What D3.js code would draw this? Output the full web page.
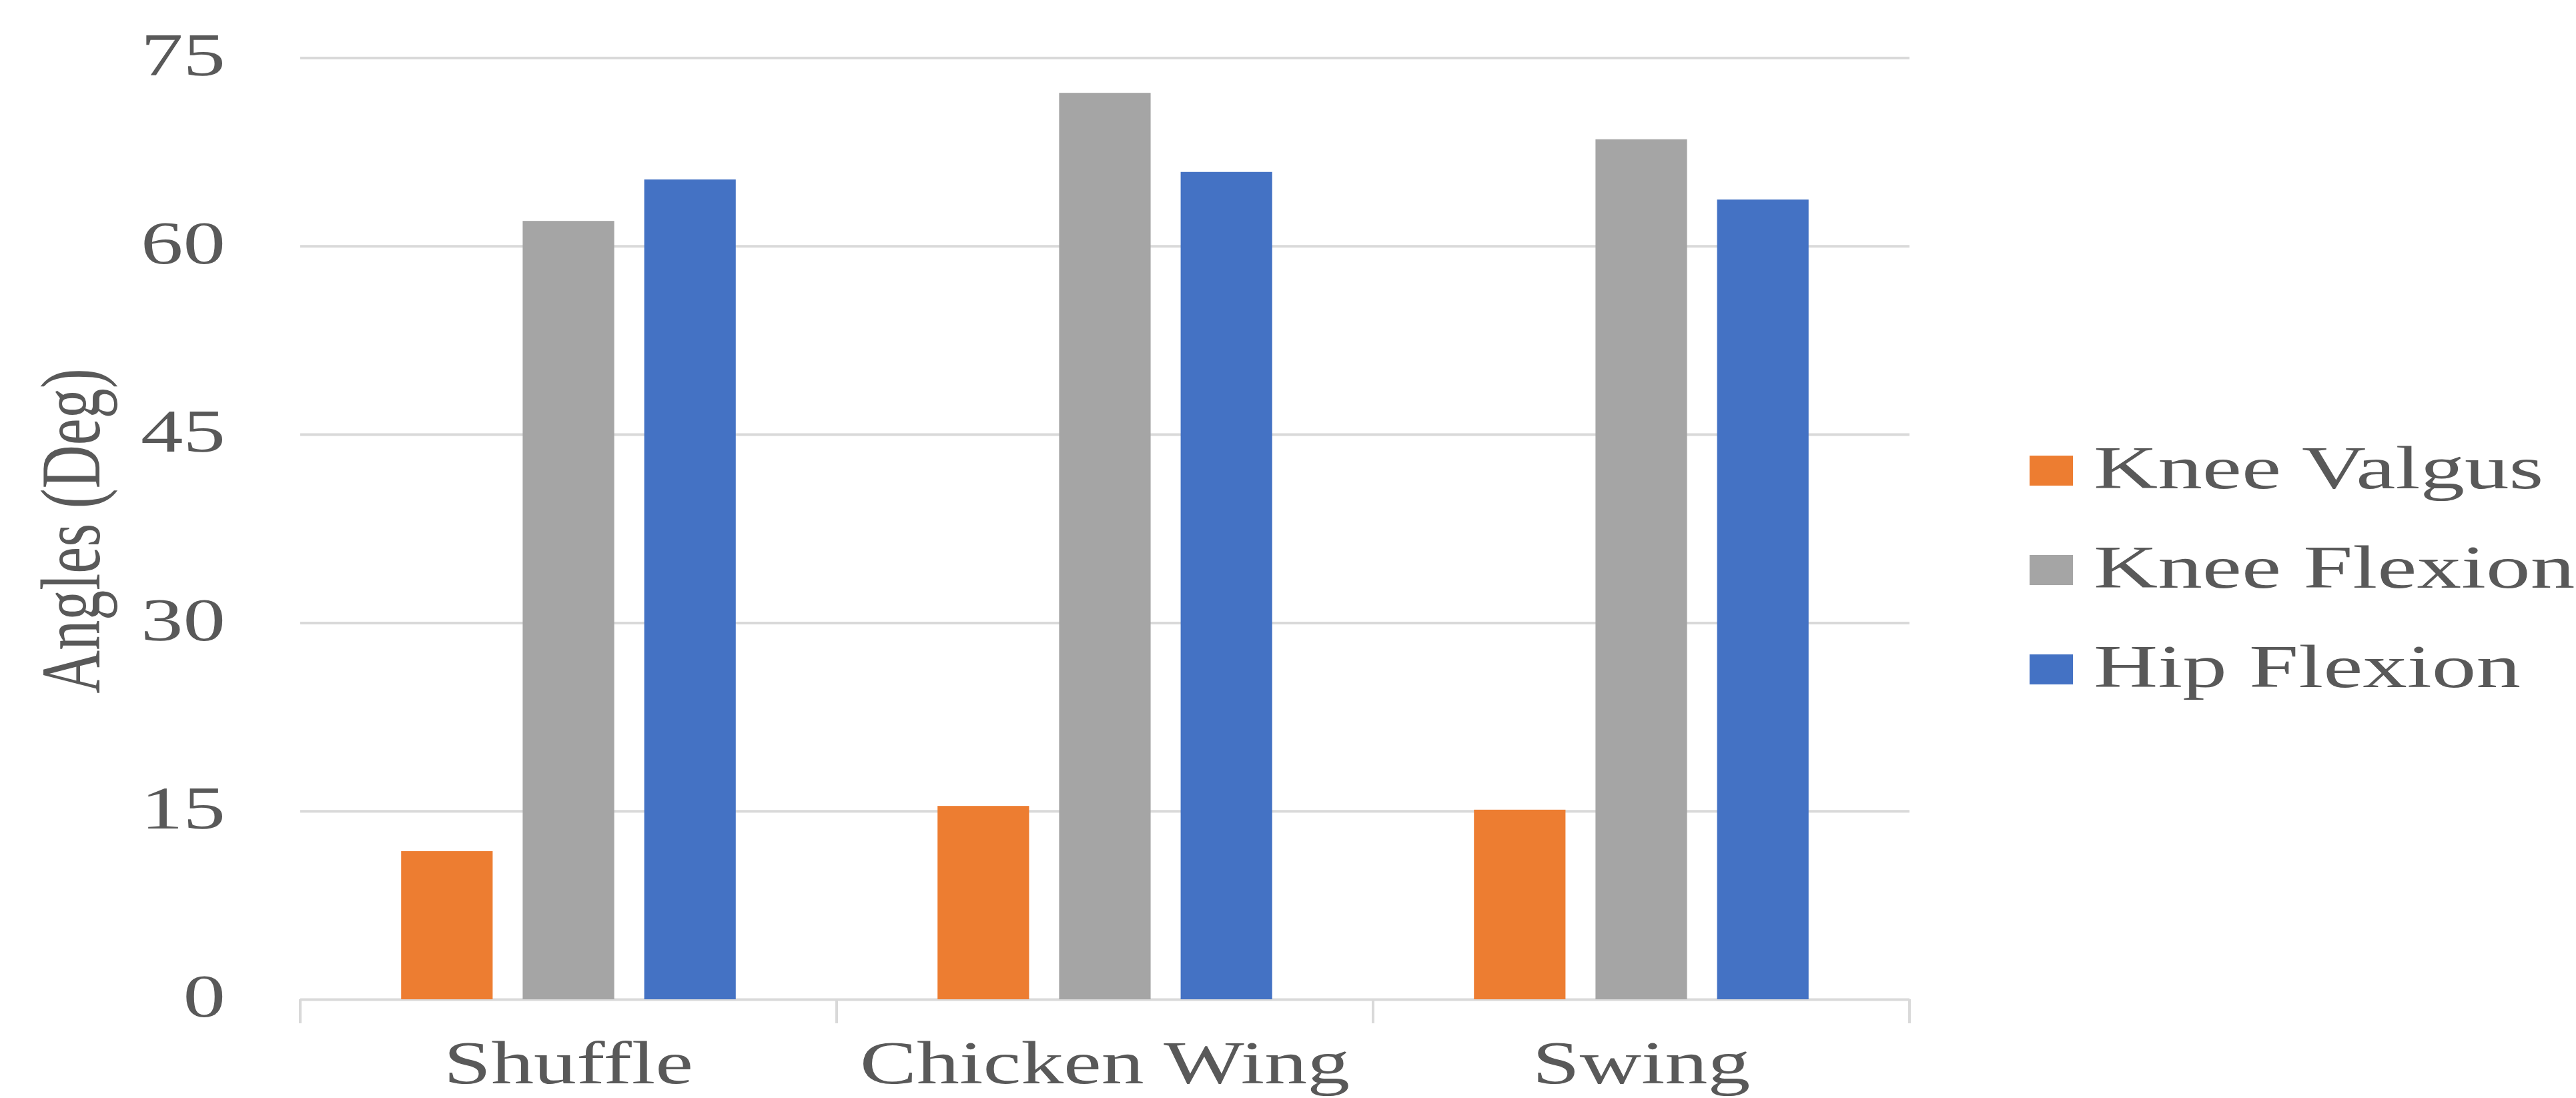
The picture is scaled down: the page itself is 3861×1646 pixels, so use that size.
<!DOCTYPE html>
<html><head><meta charset="utf-8">
<script src="https://cdn.jsdelivr.net/npm/d3@7"></script>
<style>html,body{margin:0;padding:0;background:#fff;} svg{display:block;}</style>
</head><body>
<svg id="chart" width="3861" height="1646"></svg>
<script>
const categories = ["Shuffle", "Chicken Wing", "Swing"];
const seriesNames = ["Knee Valgus", "Knee Flexion", "Hip Flexion"];
const kneeValgus = [11.8, 15.4, 15.1];
const kneeFlexion = [62.0, 72.2, 68.5];
const hipFlexion = [65.3, 65.9, 63.7];
const yTicks = [0, 15, 30, 45, 60, 75];
const colors = ["#ED7D31", "#A5A5A5", "#4472C4"];
const yTitle = "Angles (Deg)";

const seriesValues = [kneeValgus, kneeFlexion, hipFlexion];
const W = 3861, H = 1646;
const plot = {left: 450, right: 2862, top: 86.5, bottom: 1498};
const FONT = "'Liberation Serif', 'Times New Roman', serif";
const FS = 90, SX = 1.42, TXT = "#595959";

const svg = d3.select("#chart");
svg.append("rect").attr("width", W).attr("height", H).attr("fill", "#fff");

const x0 = d3.scaleBand().domain(categories).range([plot.left, plot.right]).padding(0);
const x1 = d3.scaleBand().domain(seriesNames).range([0, x0.bandwidth()])
  .paddingInner(0.247).paddingOuter(0.83);
const y = d3.scaleLinear().domain([0, 75]).range([plot.bottom, plot.top]);

// gridlines + y labels
const yAxis = svg.append("g").attr("transform", `translate(${plot.left},0)`)
  .call(d3.axisLeft(y).tickValues(yTicks).tickSize(-(plot.right - plot.left)).tickFormat(d3.format("d")));
yAxis.select(".domain").remove();
yAxis.selectAll(".tick line").attr("stroke", "#D9D9D9").attr("stroke-width", 4);
yAxis.selectAll(".tick text")
  .attr("x", 0).attr("dy", "0.28em")
  .attr("transform", `translate(-112,0) scale(1.38,1)`)
  .attr("font-family", FONT).attr("font-size", 92).attr("fill", TXT)
  .attr("text-anchor", "end");

// category boundary ticks
const bounds = categories.map(c => x0(c)).concat([x0.range()[1]]);
svg.append("g").selectAll("line").data(bounds).join("line")
  .attr("x1", d => d).attr("x2", d => d)
  .attr("y1", plot.bottom).attr("y2", plot.bottom + 36)
  .attr("stroke", "#D9D9D9").attr("stroke-width", 4);

// bars
const groups = svg.append("g").selectAll("g").data(categories).join("g")
  .attr("transform", c => `translate(${x0(c)},0)`);
groups.selectAll("rect").data((c, ci) => seriesNames.map((s, si) => ({s, si, v: seriesValues[si][ci]})))
  .join("rect")
  .attr("x", d => x1(d.s)).attr("width", x1.bandwidth())
  .attr("y", d => y(d.v)).attr("height", d => y(0) - y(d.v))
  .attr("fill", d => colors[d.si]);

// x labels
svg.append("g").selectAll("text").data(categories).join("text")
  .attr("transform", c => `translate(${x0(c) + x0.bandwidth() / 2},1624) scale(${SX},1)`)
  .attr("text-anchor", "middle")
  .attr("font-family", FONT).attr("font-size", FS).attr("fill", TXT)
  .text(c => c);

// y title
svg.append("text")
  .attr("transform", `translate(149,796) scale(${SX},1) rotate(-90)`)
  .attr("text-anchor", "middle")
  .attr("font-family", FONT).attr("font-size", FS).attr("fill", TXT)
  .text(yTitle);

// legend
const lg = svg.append("g").selectAll("g").data(seriesNames).join("g")
  .attr("transform", (d, i) => `translate(3042,${683 + i * 149})`);
lg.append("rect").attr("width", 65).attr("height", 45).attr("fill", (d, i) => colors[i]);
lg.append("text")
  .attr("transform", `translate(96,49) scale(1.48,1)`)
  .attr("font-family", FONT).attr("font-size", FS).attr("fill", TXT)
  .text(d => d);
</script>
</body></html>
